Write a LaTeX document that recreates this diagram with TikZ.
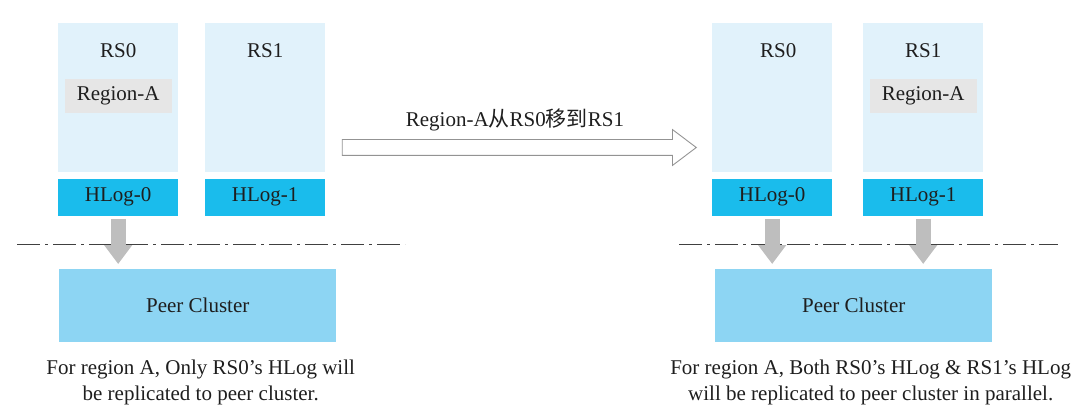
\documentclass[tikz,border=0pt]{standalone}
\usepackage{fontspec}
\setmainfont{Liberation Serif}
\newfontfamily\cjkfont{Noto Sans CJK SC}
\usepackage{tikz}
\usetikzlibrary{arrows.meta,positioning,shapes.arrows}
\definecolor{serverpale}{HTML}{E1F2FB}
\definecolor{hlogcyan}{HTML}{1ABCEC}
\definecolor{peerblue}{HTML}{8DD5F3}
\definecolor{regiongrey}{HTML}{E6E6E6}
\definecolor{arrowgrey}{HTML}{BEBEBE}
\definecolor{inkdark}{HTML}{1E1E1E}
\tikzset{
  txt/.style={inner sep=0pt, text=inkdark, font=\fontsize{21}{26}\selectfont},
  server/.style={fill=serverpale, minimum width=120pt, minimum height=149pt, inner sep=0pt, anchor=north west},
  hlog/.style={txt, fill=hlogcyan, minimum width=120pt, minimum height=37pt},
  regionbox/.style={txt, fill=regiongrey, minimum width=107pt, minimum height=34pt},
  peer/.style={txt, fill=peerblue, minimum width=277pt, minimum height=73pt, anchor=north west},
  caption/.style={txt, align=center},
  cutline/.style={draw=inkdark!85, line width=0.8pt, dash pattern=on 23pt off 5pt on 3pt off 5pt},
  copyarrow/.style={draw=arrowgrey, line width=15pt, -{Triangle[length=19pt,width=27pt]}, shorten <=3pt, shorten >=5pt},
  movearrow/.style={single arrow, draw=gray!85, line width=0.9pt, inner xsep=0pt, inner ysep=7.5pt, minimum width=35pt, single arrow head extend=10pt, single arrow tip angle=74}
}

\begin{document}
\begin{tikzpicture}[x=1pt, y=-1pt]
  \useasboundingbox (0,0) rectangle (1087,409);
  % before the move
  \node[server] (rs0L) at (58,23) {};
  \node[server] (rs1L) at (205,23) {};
  \node[txt, below=20pt of rs0L.north] (rs0Lname) {RS0};
  \node[txt, below=20pt of rs1L.north] (rs1Lname) {RS1};
  \node[regionbox, below=56pt of rs0L.north] (regL) {Region-A};
  \node[hlog, below=6pt of rs0L] (hlog0L) {HLog-0};
  \node[hlog, below=6pt of rs1L] (hlog1L) {HLog-1};
  \coordinate (cutLa) at (17,244);
  \coordinate (cutLb) at (405,244);
  \draw[cutline] (cutLa) -- (cutLb);
  \node[peer] (peerL) at (59,269) {};
  \node[txt] (peerLname) at (peerL.center) {Peer Cluster};
  \draw[copyarrow] (hlog0L) -- (hlog0L |- peerL.north);
  \node[caption, below=17pt of peerL, xshift=3pt] (capL) {For region A, Only RS0's HLog will\\be replicated to peer cluster.};

  % the move
  \node[movearrow, minimum height=354pt] (move) at (514,147.5) {};
  \node[txt] (movename) at (515,120) {Region-A{\cjkfont 从}RS0{\cjkfont 移到}RS1};

  % after the move
  \node[server] (rs0R) at (712,23) {};
  \node[server] (rs1R) at (863,23) {};
  \node[txt, below=20pt of rs0R.north, xshift=6pt] (rs0Rname) {RS0};
  \node[txt, below=20pt of rs1R.north] (rs1Rname) {RS1};
  \node[regionbox, below=56pt of rs1R.north] (regR) {Region-A};
  \node[hlog, below=6pt of rs0R] (hlog0R) {HLog-0};
  \node[hlog, below=6pt of rs1R] (hlog1R) {HLog-1};
  \coordinate (cutRa) at (679,244);
  \coordinate (cutRb) at (1058,244);
  \draw[cutline] (cutRa) -- (cutRb);
  \node[peer] (peerR) at (715,269) {};
  \node[txt] (peerRname) at (peerR.center) {Peer Cluster};
  \draw[copyarrow] (hlog0R) -- (hlog0R |- peerR.north);
  \draw[copyarrow] (hlog1R) -- (hlog1R |- peerR.north);
  \node[caption, below=17pt of peerR, xshift=17pt] (capR) {For region A, Both RS0's HLog \& RS1's HLog\\will be replicated to peer cluster in parallel.};
\end{tikzpicture}
\end{document}
